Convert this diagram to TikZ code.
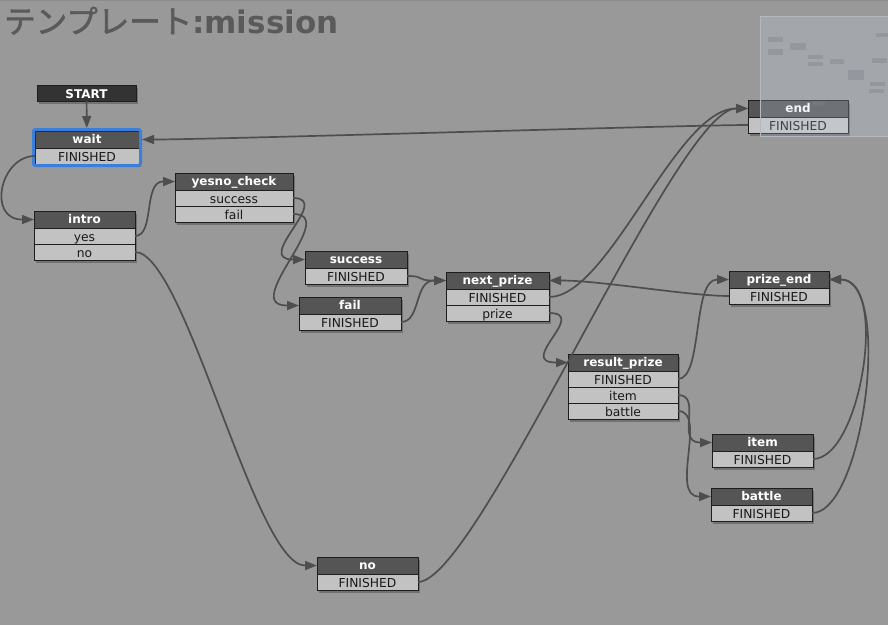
\documentclass[tikz,border=0pt]{standalone}
\usepackage{fontspec}
\setmainfont{DejaVu Sans}
\newfontfamily\cjk[FakeBold=2]{Noto Sans CJK JP}
\usetikzlibrary{positioning,fit,shadows,arrows.meta}

\definecolor{fondo}{HTML}{999999}
\definecolor{cabecera}{HTML}{555555}
\definecolor{negro}{HTML}{333333}
\definecolor{celda}{HTML}{C2C2C2}
\definecolor{borde}{HTML}{1E1E1E}
\definecolor{linea}{HTML}{4E4E4E}
\definecolor{seleccion}{HTML}{3B7FDD}
\definecolor{titulogris}{HTML}{5A5A5A}
\definecolor{mapa}{HTML}{C8D6EE}
\definecolor{mapaborde}{HTML}{B4B9C0}
\definecolor{mapanodo}{HTML}{7E8288}

\tikzset{
	sombra/.style={drop shadow={shadow xshift=2pt, shadow yshift=-3pt, opacity=.25, fill=black}},
	estado/.style={draw=borde, line width=1pt, fill=cabecera, text=white, anchor=north west,
		inner sep=0pt, outer sep=0pt, minimum height=17pt, text height=10pt, text depth=3pt,
		font=\fontsize{12}{12}\selectfont\bfseries, sombra},
	inicio/.style={estado, fill=negro, minimum height=16pt, text height=11pt, text depth=1pt},
	puerto/.style={draw=borde, line width=1pt, fill=celda, text=black!90, inner sep=0pt,
		outer sep=0pt, minimum height=16pt, text height=12pt, text depth=1pt,
		font=\fontsize{12.3}{12}\selectfont, sombra},
	sel/.style={draw=seleccion, line width=3pt, rounded corners=2pt, inner sep=1.5pt},
	enlace/.style={draw=linea, line width=1.7pt, -{Triangle[length=12pt, width=9pt]}},
	mini/.style={fill=mapanodo, fill opacity=.4}
}

\begin{document}
\begin{tikzpicture}[x=1pt, y=-1pt]

	\fill[fondo] (0,0) rectangle (888,625);
	\useasboundingbox (0,0) rectangle (888,625);
	\draw[black!45, line width=1.5pt] (0,0.5) -- (888,0.5);

	\node[anchor=base west, inner sep=0pt, text=titulogris, font=\fontsize{31}{31}\selectfont]
		(titulo) at (4,33) {{\cjk\fontsize{31.5}{31}\selectfont テンプレート}{\bfseries :mission}};

% Estados
	\node[inicio, minimum width=99pt] (start) at (37,85) {START};

	\node[estado, minimum width=104pt] (wait) at (35,131) {wait};
	\node[puerto, minimum width=104pt, below=0pt of wait] (waitfin) {FINISHED};
	\node[sel, fit=(wait)(waitfin)] (waitsel) {};
	\coordinate (waitin) at (wait.east -| waitsel.east);

	\node[estado, minimum width=101pt] (intro) at (34,211) {intro};
	\node[puerto, minimum width=101pt, below=0pt of intro] (introyes) {yes};
	\node[puerto, minimum width=101pt, below=0pt of introyes] (introno) {no};

	\node[estado, minimum width=118pt] (yesno) at (175,173) {yesno\_check};
	\node[puerto, minimum width=118pt, below=0pt of yesno] (yesnosuccess) {success};
	\node[puerto, minimum width=118pt, below=0pt of yesnosuccess] (yesnofail) {fail};

	\node[estado, minimum width=102pt] (success) at (305,251) {success};
	\node[puerto, minimum width=102pt, below=0pt of success] (successfin) {FINISHED};

	\node[estado, minimum width=102pt] (fail) at (299,297) {fail};
	\node[puerto, minimum width=102pt, below=0pt of fail] (failfin) {FINISHED};

	\node[estado, minimum width=103pt] (next) at (446,272) {next\_prize};
	\node[puerto, minimum width=103pt, below=0pt of next] (nextfin) {FINISHED};
	\node[puerto, minimum width=103pt, below=0pt of nextfin] (nextprize) {prize};

	\node[estado, minimum width=110pt] (result) at (568,354) {result\_prize};
	\node[puerto, minimum width=110pt, below=0pt of result] (resultfin) {FINISHED};
	\node[puerto, minimum width=110pt, below=0pt of resultfin] (resultitem) {item};
	\node[puerto, minimum width=110pt, below=0pt of resultitem] (resultbattle) {battle};

	\node[estado, minimum width=100pt] (prizeend) at (729,271) {prize\_end};
	\node[puerto, minimum width=100pt, below=0pt of prizeend] (prizeendfin) {FINISHED};

	\node[estado, minimum width=101pt] (item) at (712,434) {item};
	\node[puerto, minimum width=101pt, below=0pt of item] (itemfin) {FINISHED};

	\node[estado, minimum width=101pt] (battle) at (711,488) {battle};
	\node[puerto, minimum width=101pt, below=0pt of battle] (battlefin) {FINISHED};

	\node[estado, minimum width=100pt] (end) at (748,100) {end};
	\node[puerto, minimum width=100pt, below=0pt of end] (endfin) {FINISHED};

	\node[estado, minimum width=101pt] (no) at (317,557) {no};
	\node[puerto, minimum width=101pt, below=0pt of no] (nofin) {FINISHED};

% Transiciones
	\draw[enlace] (start) -- (waitsel);
	\draw[enlace] (waitfin.west) .. controls +(-35,0) and +(-35,0) .. ([xshift=-12pt]intro.west) -- (intro.west);
	\draw[enlace] (introyes.east) .. controls +(20,0) and +(-20,0) .. ([xshift=-12pt]yesno.west) -- (yesno.west);
	\draw[enlace] (introno.east) .. controls +(50,0) and +(-50,0) .. ([xshift=-12pt]no.west) -- (no.west);
	\draw[enlace] (yesnosuccess.east) .. controls +(40,0) and +(-40,0) .. ([xshift=-12pt]success.west) -- (success.west);
	\draw[enlace] (yesnofail.east) .. controls +(48,0) and +(-48,0) .. ([xshift=-12pt]fail.west) -- (fail.west);
	\draw[enlace] (successfin.east) .. controls +(20,0) and +(-20,0) .. ([xshift=-12pt]next.west) -- (next.west);
	\draw[enlace] (failfin.east) .. controls +(20,0) and +(-20,0) .. ([xshift=-12pt]next.west) -- (next.west);
	\draw[enlace] (nextfin.east) .. controls +(60,0) and +(-60,0) .. ([xshift=-12pt]end.west) -- (end.west);
	\draw[enlace] (nextprize.east) .. controls +(40,0) and +(-40,0) .. ([xshift=-12pt]result.west) -- (result.west);
	\draw[enlace] (nofin.east) .. controls +(60,0) and +(-60,0) .. ([xshift=-12pt]end.west) -- (end.west);
	\draw[enlace] (endfin.west) .. controls +(-60,0) and +(60,0) .. ([xshift=12pt]waitin) -- (waitin);
	\draw[enlace] (prizeendfin.west) .. controls +(-40,0) and +(40,0) .. ([xshift=12pt]next.east) -- (next.east);
	\draw[enlace] (resultfin.east) .. controls +(25,0) and +(-25,0) .. ([xshift=-12pt]prizeend.west) -- (prizeend.west);
	\draw[enlace] (resultitem.east) .. controls +(25,0) and +(-25,0) .. ([xshift=-12pt]item.west) -- (item.west);
	\draw[enlace] (resultbattle.east) .. controls +(30,0) and +(-30,0) .. ([xshift=-12pt]battle.west) -- (battle.west);
	\draw[enlace] (itemfin.east) .. controls +(48,0) and +(48,0) .. ([xshift=12pt]prizeend.east) -- (prizeend.east);
	\draw[enlace] (battlefin.east) .. controls +(52,0) and +(52,0) .. ([xshift=12pt]prizeend.east) -- (prizeend.east);

% Minimapa
	\fill[mapa, fill opacity=.22] (760,16) rectangle (889,136);
	\draw[mapaborde, line width=1pt] (889,16) -- (760.5,16) -- (760.5,136) -- (889,136);
	\foreach \x/\y/\w/\h in {768/37/15/5, 768/49/15/6, 790/43/16/7, 808/55/15/4, 808/62/15/4,
		830/59/14/5, 848/70/16/10, 876/33/12/4, 872/58/15/5, 870/82/15/4, 869/89/15/4, 813/101/12/5}
		\fill[mini] (\x,\y) rectangle ++(\w,\h);

\end{tikzpicture}
\end{document}
